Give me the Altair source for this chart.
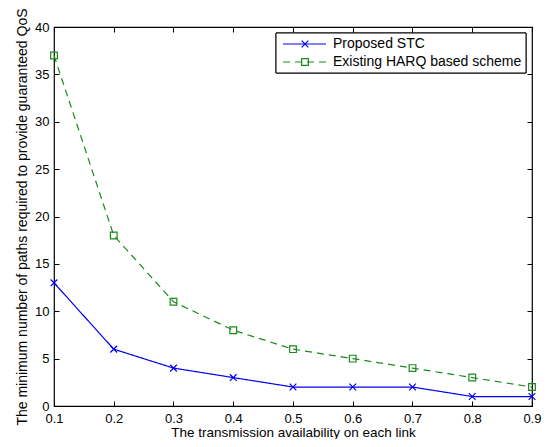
import altair as alt
import pandas as pd

x_vals = [0.1, 0.2, 0.3, 0.4, 0.5, 0.6, 0.7, 0.8, 0.9]
stc = [13, 6, 4, 3, 2, 2, 2, 1, 1]
harq = [37, 18, 11, 8, 6, 5, 4, 3, 2]
series = ["Proposed STC", "Existing HARQ based scheme"]
x_ticks = [0.1, 0.2, 0.3, 0.4, 0.5, 0.6, 0.7, 0.8, 0.9]
y_ticks = [0, 5, 10, 15, 20, 25, 30, 35, 40]

rows = []
for xv, v in zip(x_vals, stc):
    rows.append({"x": xv, "y": v, "series": series[0]})
for xv, v in zip(x_vals, harq):
    rows.append({"x": xv, "y": v, "series": series[1]})
df = pd.DataFrame(rows)

# legend rows (pixel offsets inside plot area)
leg_df = pd.DataFrame({"series": series, "ly": [17, 35]})

FONT = "Liberation Sans"
xpath = "M-1,-1L1,1M-1,1L1,-1"

xscale = alt.Scale(domain=[0.1, 0.9], nice=False, zero=False)
yscale = alt.Scale(domain=[0, 40], nice=False)

color = alt.Color("series:N", scale=alt.Scale(domain=series, range=["#0000ee", "#1a8a1a"]), legend=None)
dash = alt.StrokeDash("series:N", scale=alt.Scale(domain=series, range=[[1, 0], [7, 5]]), legend=None)
shape = alt.Shape("series:N", scale=alt.Scale(domain=series, range=[xpath, "square"]), legend=None)

bottom_axis = alt.Axis(values=x_ticks, format=".1f", title="The transmission availability on each link",
                       offset=-5, tickSize=5, domain=False, grid=False, labelPadding=6.5, labelFlush=False,
                       labelFont=FONT, labelFontSize=13, labelColor="black", tickColor="black",
                       titleFont=FONT, titleFontSize=13.5, titleFontWeight="normal", titleColor="black",
                       titlePadding=0)
left_axis = alt.Axis(values=y_ticks, title="The minimum number of paths required to provide guaranteed  QoS",
                     offset=-5, tickSize=5, domain=False, grid=False, labelPadding=5, labelFlush=False,
                     labelFont=FONT, labelFontSize=13, labelColor="black", tickColor="black",
                     titleFont=FONT, titleFontSize=14, titleFontWeight="normal", titleColor="black",
                     titlePadding=5)

base = alt.Chart(df)
line = base.mark_line(strokeWidth=1.2).encode(
    x=alt.X("x:Q", scale=xscale, axis=bottom_axis),
    y=alt.Y("y:Q", scale=yscale, axis=left_axis),
    color=color, strokeDash=dash,
)
pts = base.mark_point(filled=False, size=45, strokeWidth=1.2, opacity=1).encode(
    x=alt.X("x:Q", scale=xscale, axis=None),
    y=alt.Y("y:Q", scale=yscale, axis=None),
    color=color, shape=shape,
)
frame = base.mark_point(opacity=0).encode(
    x=alt.X("x:Q", scale=xscale, axis=alt.Axis(orient="top", values=x_ticks, labels=False, title=None,
                                                offset=-5, tickSize=5, domain=False, grid=False, tickColor="black")),
    y=alt.Y("y:Q", scale=yscale, axis=alt.Axis(orient="right", values=y_ticks, labels=False, title=None,
                                                offset=-5, tickSize=5, domain=False, grid=False, tickColor="black")),
)

leg = alt.Chart(leg_df)
leg_box = leg.mark_rect(fill="white", stroke="black", strokeWidth=1).encode(
    x=alt.value(222), x2=alt.value(472), y=alt.value(6), y2=alt.value(46)
)
leg_line = leg.mark_rule(strokeWidth=1.2).encode(
    x=alt.value(229), x2=alt.value(272),
    y=alt.Y("ly:Q", scale=None, axis=None),
    color=color, strokeDash=dash,
)
leg_pt = leg.mark_point(filled=False, size=45, strokeWidth=1.2, opacity=1).encode(
    x=alt.value(251),
    y=alt.Y("ly:Q", scale=None, axis=None),
    color=color, shape=shape,
)
leg_txt = leg.mark_text(align="left", baseline="middle", font=FONT, fontSize=14, color="black").encode(
    x=alt.value(279),
    y=alt.Y("ly:Q", scale=None, axis=None),
    text="series:N",
)

chart = alt.layer(line, pts, frame, leg_box, leg_line, leg_pt, leg_txt).resolve_axis(
    x="independent", y="independent"
).properties(
    width=478, height=379,
    autosize=alt.AutoSizeParams(type="none"),
    padding={"left": 46, "top": 19, "right": 10, "bottom": 33},
    background="white",
).configure_view(stroke="black", strokeWidth=1.2)

chart.save("out.html", embed_options={"renderer": "svg", "actions": False})
